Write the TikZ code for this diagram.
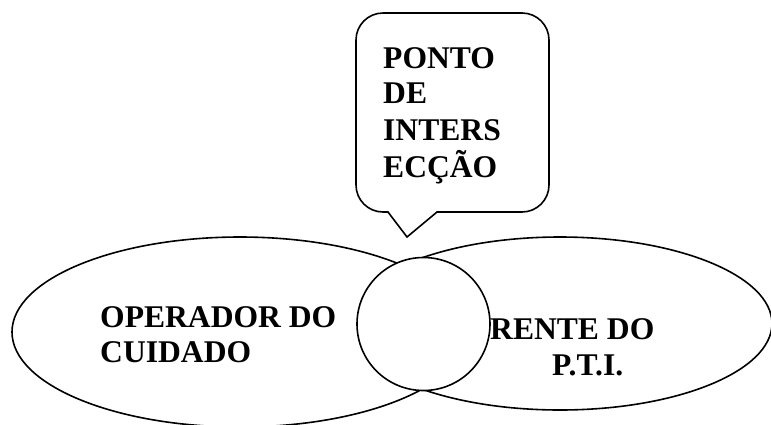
\documentclass[tikz,border=0pt]{standalone}
\usepackage{fontspec}
\setmainfont{Liberation Serif}
\usetikzlibrary{shapes.geometric}
\begin{document}
\begin{tikzpicture}[x=1pt,y=-1pt,
  outline/.style={draw=black,line width=1.6pt,fill=white,inner sep=0pt,outer sep=0pt},
  label/.style={anchor=base west,inner sep=0pt,font=\fontsize{31.6}{36}\selectfont\bfseries,text=black}]
\useasboundingbox (0,0) rectangle (771,424);
% ellipses and circle
\node[outline,ellipse,minimum width=424pt,minimum height=173pt] (right) at (560,323.5) {};
\node[outline,ellipse,minimum width=456pt,minimum height=190pt] (left) at (240,332) {};
\node[outline,circle,minimum size=133pt] (mid) at (423.5,324) {};
% callout
\coordinate (tip) at (407,237);
\coordinate (bl) at (388,212);
\coordinate (br) at (437,212);
\draw[line width=1.6pt,line cap=round,rounded corners=27pt] (br) -- (549,212) -- (549,13) -- (356,13) -- (356,212) -- (bl);
\draw[line width=1.6pt,line cap=round,line join=miter] (bl) -- (tip) -- (br);
% texts
\node[label] (t1) at (383,68) {PONTO};
\node[label] (t2) at (383,103) {DE};
\node[label] (t3) at (383,140) {INTERS};
\node[label] (t4) at (383,177) {ECÇÃO};
\node[label] (l1) at (100,327) {OPERADOR DO};
\node[label] (l2) at (100,362) {CUIDADO};
\node[label] (r1) at (490,339) {RENTE DO};
\node[label] (r2) at (552,375) {P.T.I.};
\end{tikzpicture}
\end{document}
